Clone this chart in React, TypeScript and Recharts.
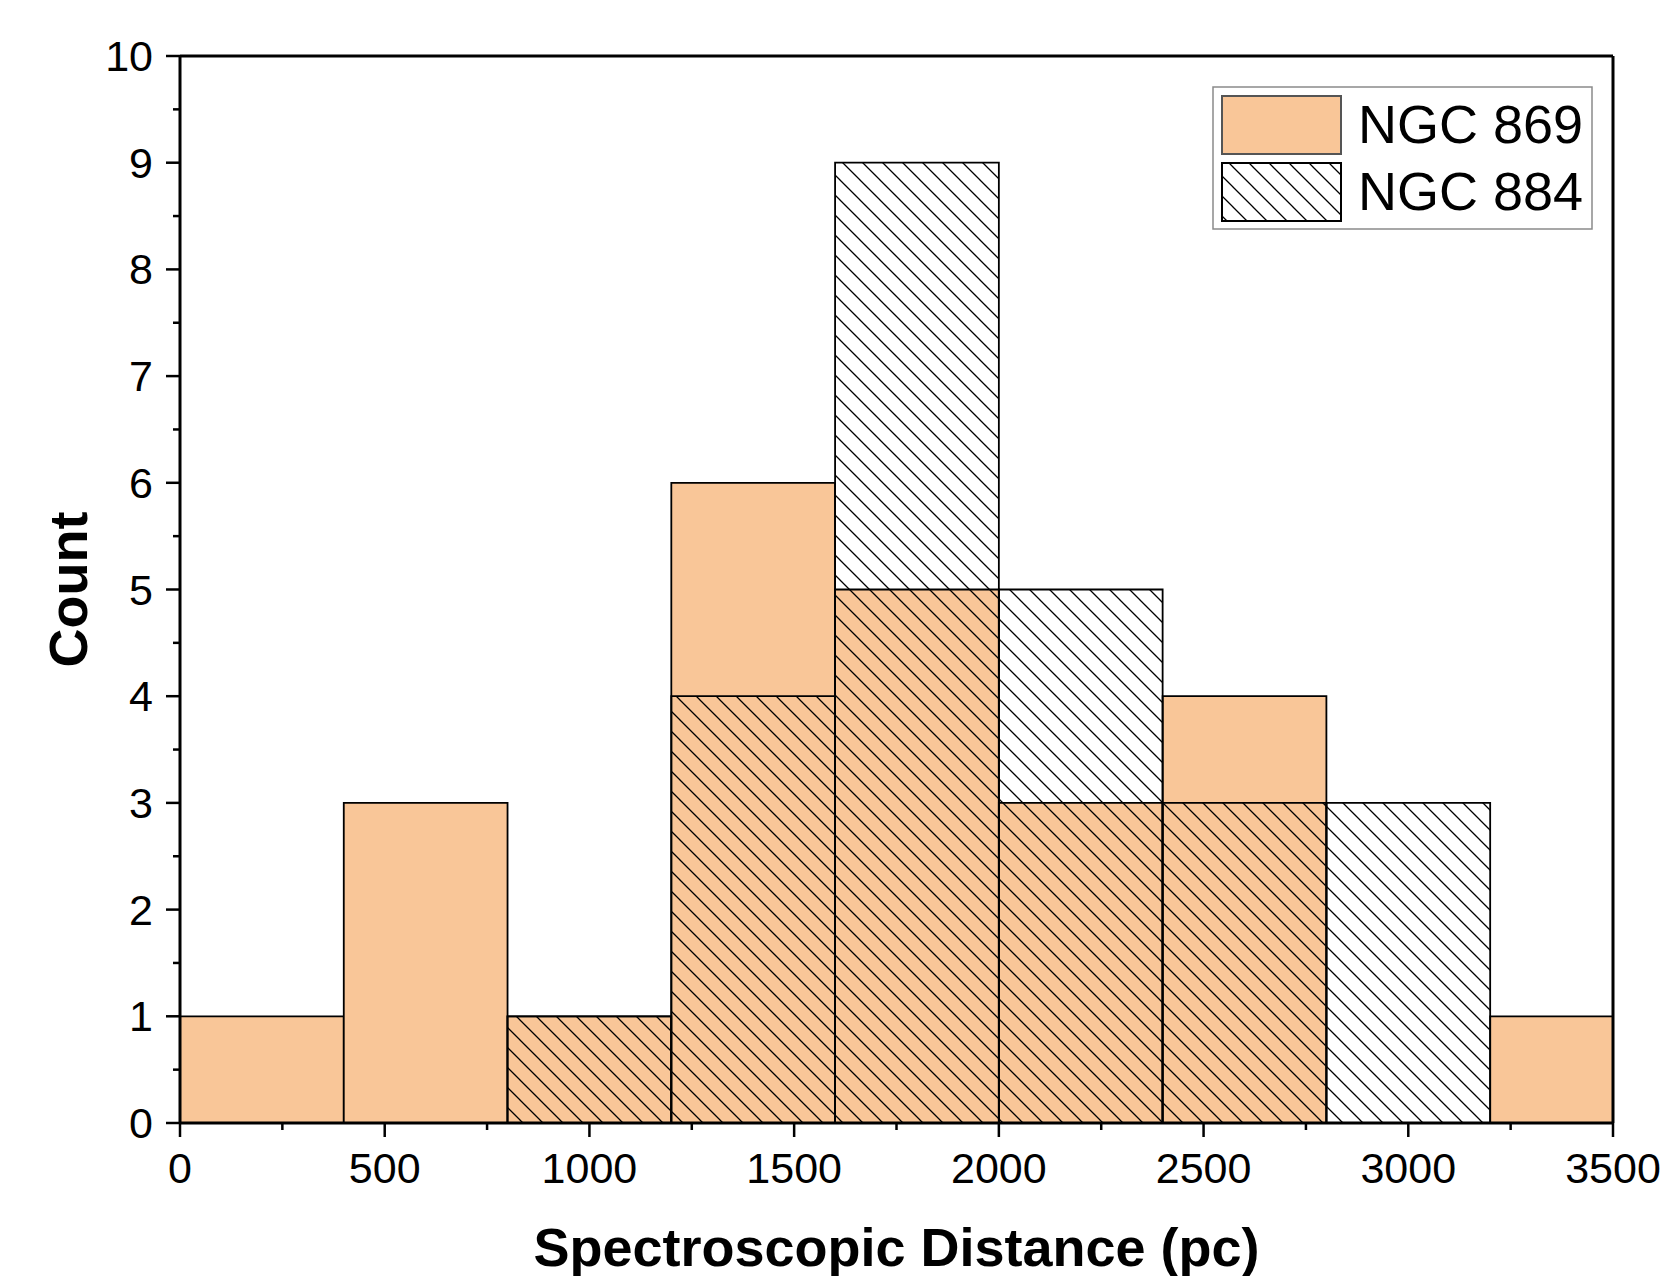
import React from 'react';
import { ComposedChart, XAxis, YAxis, Line, ReferenceArea, ReferenceLine } from 'recharts';

const FONT = '"Liberation Sans", Arial, sans-serif';

// histogram bins (pc), 400 pc wide
const binStarts = [0, 400, 800, 1200, 1600, 2000, 2400, 2800, 3200];
const binWidth = 400;
const ngc869 = [1, 3, 1, 6, 5, 3, 4, 0, 1];
const ngc884 = [0, 0, 1, 4, 9, 5, 3, 3, 0];
const seriesNames = ['NGC 869', 'NGC 884'];

const xTicks = [0, 250, 500, 750, 1000, 1250, 1500, 1750, 2000, 2250, 2500, 2750, 3000, 3250, 3500];
const yTicks = [0, 0.5, 1, 1.5, 2, 2.5, 3, 3.5, 4, 4.5, 5, 5.5, 6, 6.5, 7, 7.5, 8, 8.5, 9, 9.5, 10];

const ORANGE = '#f9c698';

const bins = binStarts.map((start, i) => ({
  start,
  end: start + binWidth,
  a: ngc869[i],
  b: ngc884[i],
}));

const XTick = (props: any) => {
  const { x, y, payload } = props;
  const major = payload.value % 500 === 0;
  return (
    <g>
      <line x1={x} x2={x} y1={y} y2={y + (major ? 14 : 7)} stroke="#000" strokeWidth={2.5} />
      {major && (
        <text x={x} y={y + 60} textAnchor="middle" fontSize={43} fontFamily={FONT} fill="#000">
          {payload.value}
        </text>
      )}
    </g>
  );
};

const YTick = (props: any) => {
  const { x, y, payload } = props;
  const major = payload.value % 1 === 0;
  return (
    <g>
      <line x1={x - (major ? 14 : 7)} x2={x} y1={y} y2={y} stroke="#000" strokeWidth={2.5} />
      {major && (
        <text x={x - 27} y={y + 15} textAnchor="end" fontSize={43} fontFamily={FONT} fill="#000">
          {payload.value}
        </text>
      )}
    </g>
  );
};

const HatchPath = () => (
  <path d="M-5,-5 L25,25 M-5,15 L5,25 M15,-5 L25,5" stroke="#000" strokeWidth={1.3} />
);

const LegendBox = () => (
  <g transform="translate(1213,87)">
    <defs>
      <pattern id="hatchLegend" patternUnits="userSpaceOnUse" width={20} height={20}>
        <HatchPath />
      </pattern>
    </defs>
    <rect x={0} y={0} width={379} height={142} fill="#fff" stroke="#8a8a8a" strokeWidth={1.5} />
    <rect x={9} y={9} width={119} height={58} fill={ORANGE} stroke="#555" strokeWidth={2} />
    <rect x={9} y={76} width={119} height={58} fill="#fff" stroke="#000" strokeWidth={2} />
    <rect x={9} y={76} width={119} height={58} fill="url(#hatchLegend)" stroke="#000" strokeWidth={2} />
    <text x={145} y={56} fontSize={54} fontFamily={FONT} fill="#000">{seriesNames[0]}</text>
    <text x={145} y={123} fontSize={54} fontFamily={FONT} fill="#000">{seriesNames[1]}</text>
  </g>
);

export default function App() {
  return (
    <div style={{ position: 'absolute', left: 0, top: 0, background: '#fff' }}>
      <ComposedChart
        width={1666}
        height={1276}
        data={bins}
        margin={{ top: 56, right: 53, bottom: 0, left: 0 }}
      >
        <defs>
          <pattern id="hatch" patternUnits="userSpaceOnUse" width={20} height={20}>
            <HatchPath />
          </pattern>
        </defs>

        {/* invisible carrier series so the numeric x axis has data */}
        <Line dataKey="a" stroke="none" dot={false} activeDot={false} legendType="none" isAnimationActive={false} />

        {bins.map((d) =>
          d.a > 0 ? (
            <ReferenceArea
              key={`a${d.start}`}
              x1={d.start}
              x2={d.end}
              y1={0}
              y2={d.a}
              fill={ORANGE}
              fillOpacity={1}
              stroke="#000"
              strokeWidth={1.8}
              ifOverflow="hidden"
            />
          ) : null
        )}
        {bins.map((d) =>
          d.b > 0 ? (
            <ReferenceArea
              key={`b${d.start}`}
              x1={d.start}
              x2={d.end}
              y1={0}
              y2={d.b}
              fill="url(#hatch)"
              fillOpacity={1}
              stroke="#000"
              strokeWidth={1.8}
              ifOverflow="hidden"
            />
          ) : null
        )}

        <ReferenceLine y={10} stroke="#000" strokeWidth={3} />
        <ReferenceLine x={3500} stroke="#000" strokeWidth={3} />

        <XAxis
          dataKey="start"
          type="number"
          domain={[0, 3500]}
          allowDataOverflow
          ticks={xTicks}
          interval={0}
          height={153}
          tickSize={0}
          tickMargin={0}
          tickLine={false}
          tick={<XTick />}
          axisLine={{ stroke: '#000', strokeWidth: 3 }}
          label={{
            content: (p: any) => {
              const vb = p.viewBox;
              return (
                <text
                  x={vb.x + vb.width / 2}
                  y={vb.y + 143}
                  textAnchor="middle"
                  fontSize={54}
                  fontWeight="bold"
                  fontFamily={FONT}
                  fill="#000"
                >
                  Spectroscopic Distance (pc)
                </text>
              );
            },
          }}
        />
        <YAxis
          type="number"
          domain={[0, 10]}
          allowDataOverflow
          ticks={yTicks}
          interval={0}
          width={180}
          tickSize={0}
          tickMargin={0}
          tickLine={false}
          tick={<YTick />}
          axisLine={{ stroke: '#000', strokeWidth: 3 }}
          label={{
            content: (p: any) => {
              const vb = p.viewBox;
              const cx = vb.x + 87;
              const cy = vb.y + vb.height / 2;
              return (
                <text
                  x={cx}
                  y={cy}
                  transform={`rotate(-90, ${cx}, ${cy})`}
                  textAnchor="middle"
                  fontSize={54}
                  fontWeight="bold"
                  fontFamily={FONT}
                  fill="#000"
                >
                  Count
                </text>
              );
            },
          }}
        />

        <LegendBox />
      </ComposedChart>
    </div>
  );
}
